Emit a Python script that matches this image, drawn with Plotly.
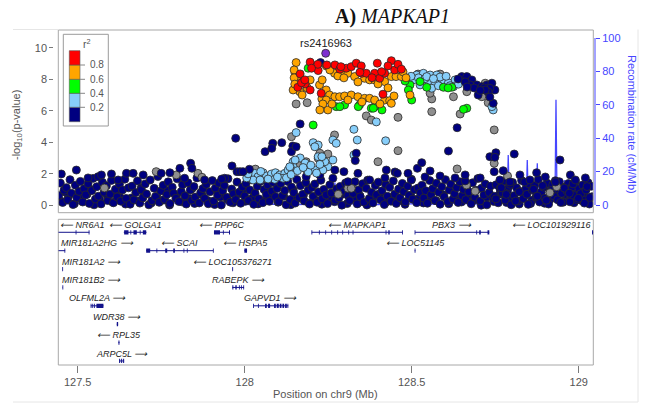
import plotly.graph_objects as go

W, H = 648, 403

# ---------------------------------------------------------------- data
lead_pos = [128.2425]
lead_logp = [9.66]
lead_name = "rs2416963"

red_pos = [128.196, 128.215, 128.220, 128.166, 128.176, 128.181, 128.159, 128.196, 128.229,
           128.219, 128.200, 128.170, 128.180, 128.270, 128.285, 128.304, 128.319, 128.334,
           128.349, 128.351, 128.364, 128.389, 128.397, 128.404, 128.419, 128.439, 128.449,
           128.459, 128.469, 128.414, 128.288, 128.345, 128.381, 128.410, 128.429, 128.246]
red_logp = [9.10, 8.81, 8.56, 8.35, 7.86, 7.71, 7.50, 7.33, 7.12,
            8.96, 8.71, 7.79, 7.97, 8.92, 8.65, 8.71, 8.81, 9.03,
            8.86, 8.39, 8.39, 8.39, 9.03, 8.07, 8.39, 9.19, 8.60,
            8.96, 8.65, 7.06, 8.81, 8.45, 8.11, 8.49, 8.86, 8.92]

orange_pos = [128.154, 128.156, 128.160, 128.196, 128.156, 128.231, 128.151, 128.165, 128.148,
              128.148, 128.145, 128.172, 128.187, 128.224, 128.244, 128.244, 128.232, 128.269,
              128.288, 128.309, 128.329, 128.359, 128.374, 128.389, 128.419, 128.439, 128.453,
              128.469, 128.255, 128.279, 128.297, 128.339, 128.399, 128.474, 128.483, 128.429,
              128.254, 128.270, 128.284, 128.299, 128.319, 128.339, 128.359, 128.374, 128.389,
              128.419, 128.434, 128.439, 128.249, 128.244, 128.261, 128.309, 128.351, 128.405,
              128.447, 128.234, 128.225, 128.150, 128.495]
orange_logp = [9.07, 8.28, 7.65, 7.97, 7.97, 6.76, 8.39, 7.22, 8.60,
               8.10, 7.33, 7.01, 7.46, 7.65, 7.33, 8.86, 7.97, 8.39,
               8.39, 8.39, 8.18, 8.07, 7.97, 7.97, 7.86, 8.18, 8.18,
               8.18, 8.60, 8.22, 8.10, 7.84, 7.71, 8.48, 8.10, 7.46,
               7.01, 6.90, 6.90, 6.95, 7.01, 6.90, 6.80, 6.80, 6.69,
               6.69, 6.65, 6.48, 6.06, 6.69, 6.44, 6.69, 6.57, 6.44,
               6.95, 6.44, 6.06, 7.70, 7.01]

green_pos = [128.190, 128.205, 128.274, 128.299, 128.344, 128.379, 128.389, 128.411, 128.285,
             128.340, 128.385, 128.495, 128.525, 128.545, 128.595, 128.620, 128.490, 128.500,
             128.665, 128.655, 128.480, 128.609]
green_logp = [8.71, 5.10, 6.27, 6.38, 6.38, 6.17, 6.27, 6.06, 6.27,
              6.27, 6.17, 7.65, 7.86, 7.50, 7.50, 7.50, 7.33, 6.69,
              6.17, 6.10, 7.90, 7.46]

lblue_pos = [128.505, 128.515, 128.535, 128.555, 128.575, 128.550, 128.570, 128.595, 128.610,
             128.630, 128.625, 128.560, 128.525, 128.660, 128.744, 128.740, 128.520, 128.585,
             128.603, 128.540, 128.498, 128.640, 128.580, 128.615, 128.545, 128.565,
             128.327, 128.394, 128.154, 128.264, 128.274, 128.205, 128.220, 128.210, 128.337,
             128.422, 128.327, 128.220, 128.264, 128.249, 128.234, 128.145, 128.145, 128.211,
             128.166, 128.181, 128.136, 128.190, 128.240, 128.231, 128.151,
             128.015, 128.030, 128.040, 128.055, 128.065, 128.080, 128.092, 128.105, 128.120,
             128.130, 128.115, 128.025, 128.090, 128.135, 128.046, 128.070, 128.006, 128.010,
             128.048, 128.098, 128.125, 128.139, 128.158, 128.175, 128.198, 128.215, 128.225]
lblue_logp = [7.97, 8.28, 8.39, 8.28, 8.28, 7.86, 7.76, 7.97, 7.79,
              7.97, 7.54, 7.44, 7.65, 8.01, 6.06, 6.27, 8.10, 8.15,
              8.20, 8.05, 8.20, 7.70, 7.60, 7.60, 8.18, 8.05,
              4.83, 5.30, 4.62, 4.15, 3.94, 3.98, 3.83, 3.72, 4.15,
              4.10, 3.20, 3.09, 2.88, 2.45, 2.24, 2.77, 2.45, 2.24,
              3.01, 2.69, 2.43, 2.12, 2.77, 3.09, 2.88,
              1.93, 2.03, 1.82, 2.07, 1.86, 1.99, 2.07, 1.93, 2.03,
              2.24, 1.72, 1.61, 1.65, 2.45, 1.61, 1.67, 1.74, 2.00,
              2.15, 1.80, 1.75, 1.95, 2.20, 2.40, 2.55, 2.05, 2.60]

grey_pos = [128.154, 128.187, 128.364, 128.379, 128.459, 128.720, 128.729, 128.560, 128.645,
            128.560, 128.625, 128.665, 128.710, 128.555, 128.519, 128.585, 128.140, 128.269,
            128.459, 128.225, 128.249, 128.184, 128.160, 128.399, 128.747, 128.636, 128.747,
            128.787, 128.664, 128.220, 128.036, 127.735, 127.795, 127.860, 127.872, 128.309,
            128.934, 128.914, 128.032, 128.184, 128.319,
            127.580, 128.280, 128.690]
grey_logp = [6.44, 6.52, 5.68, 5.42, 5.59, 7.76, 6.52, 5.95, 5.80,
             6.76, 6.90, 7.22, 6.90, 7.12, 8.34, 8.34, 4.36, 4.47,
             3.47, 3.31, 3.26, 2.77, 2.56, 2.77, 4.79, 2.31, 2.67,
             1.86, 1.29, 2.99, 2.18, 2.14, 1.93, 2.03, 1.78, 1.08,
             1.18, 0.80, 2.30, 2.29, 1.08,
             1.10, 0.70, 0.90]

navy_top_pos = [128.227, 128.166, 127.973, 128.061, 128.084, 128.111, 128.144, 128.081, 128.140,
                128.154, 128.334, 128.331, 128.270, 128.424, 128.457, 128.489, 128.339, 128.636,
                128.610, 128.517, 128.530, 128.555, 128.734, 128.752, 128.749, 128.747, 128.807,
                128.944, 128.774, 128.874, 128.660,
                128.650, 128.665, 128.680, 128.695, 128.710, 128.725, 128.740, 128.749, 128.699,
                128.734, 128.744, 128.675, 128.687, 128.717, 128.729, 128.660, 128.639, 128.666,
                128.720, 128.734, 128.705,
                127.451, 127.496, 127.838, 127.842, 127.962, 127.977, 127.931, 127.986, 128.014,
                127.995]
navy_top_logp = [9.07, 5.17, 4.26, 3.41, 3.94, 3.98, 3.77, 3.62, 3.41,
                 3.72, 3.31, 2.84, 2.24, 2.24, 2.03, 2.03, 2.03, 4.93,
                 3.45, 2.35, 2.71, 2.18, 3.09, 3.34, 3.05, 2.14, 3.26,
                 2.88, 2.20, 2.07, 1.93,
                 8.18, 8.18, 7.97, 7.65, 7.54, 7.65, 7.76, 7.33, 7.01,
                 7.44, 6.48, 7.65, 7.46, 7.46, 7.20, 7.84, 8.03, 7.52,
                 7.33, 6.88, 7.30,
                 1.99, 2.24, 2.67, 2.35, 2.50, 2.14, 1.67, 2.14, 2.29,
                 2.14]

navy_mid_pos = [127.561, 127.571, 127.601, 127.646, 127.666, 127.696, 127.750, 127.820, 127.806,
                127.880, 127.940, 127.776, 127.531, 127.621, 128.184, 128.297, 128.309, 128.374,
                128.499, 128.540, 128.585, 128.630, 128.705, 128.824, 128.854, 128.900, 128.975,
                129.020, 128.225, 128.420, 128.450, 128.660, 128.764, 128.794, 128.930, 128.990]
navy_mid_logp = [1.82, 1.93, 1.99, 2.03, 2.03, 1.93, 2.03, 1.72, 2.35,
                 1.61, 1.72, 2.07, 1.74, 1.61, 1.82, 2.14, 1.50, 1.61,
                 1.61, 1.80, 1.86, 1.74, 1.74, 1.93, 1.61, 1.80, 1.93,
                 1.74, 1.93, 1.74, 2.12, 1.55, 1.61, 1.48, 1.48, 1.61]

bg1_pos = [127.443, 127.448, 127.455, 127.459, 127.466, 127.470, 127.477, 127.481, 127.486, 127.493,
           127.497, 127.504, 127.508, 127.515, 127.519, 127.524, 127.531, 127.535, 127.542, 127.546,
           127.553, 127.557, 127.562, 127.570, 127.574, 127.579, 127.586, 127.590, 127.597, 127.601,
           127.607, 127.613, 127.618, 127.625, 127.629, 127.634, 127.641, 127.645, 127.652, 127.657]
bg1_logp = [0.62, 1.41, 0.18, 0.95, 1.12, 0.34, 1.63, 0.77, 0.05, 1.28,
            0.49, 0.88, 1.52, 0.21, 1.05, 0.66, 1.37, 0.12, 0.93, 1.71,
            0.40, 1.18, 0.58, 0.09, 1.46, 0.83, 1.24, 0.30, 0.71, 1.58,
            0.16, 1.02, 0.53, 1.34, 0.26, 0.97, 1.66, 0.44, 1.11, 0.07]

bg2_pos = [127.663, 127.668, 127.674, 127.679, 127.686, 127.690, 127.695, 127.702, 127.706, 127.713,
           127.717, 127.722, 127.729, 127.733, 127.740, 127.744, 127.749, 127.756, 127.760, 127.767,
           127.771, 127.776, 127.783, 127.787, 127.794, 127.798, 127.803, 127.810, 127.814, 127.821,
           127.825, 127.830, 127.837, 127.841, 127.848, 127.852, 127.857, 127.864, 127.868, 127.875]
bg2_logp = [1.22, 0.35, 0.81, 1.55, 0.14, 0.99, 0.47, 1.36, 0.72, 0.03,
            1.61, 0.29, 1.08, 0.56, 1.83, 0.19, 0.91, 1.27, 0.38, 0.68,
            1.49, 0.11, 1.15, 0.76, 0.45, 1.68, 0.24, 0.87, 1.31, 0.60,
            0.08, 1.43, 0.97, 0.33, 1.19, 0.52, 1.74, 0.15, 0.79, 1.06]

bg3_pos = [127.880, 127.885, 127.891, 127.896, 127.903, 127.907, 127.912, 127.919, 127.923, 127.930,
           127.934, 127.939, 127.946, 127.950, 127.957, 127.961, 127.966, 127.973, 127.977, 127.984,
           127.988, 127.993, 128.000, 128.004, 128.011, 128.015, 128.020, 128.027, 128.031, 128.038,
           128.042, 128.047, 128.054, 128.058, 128.065, 128.069, 128.074, 128.081, 128.085, 128.092]
bg3_logp = [0.44, 1.33, 0.10, 0.86, 1.57, 0.27, 1.09, 0.64, 1.41, 0.02,
            0.92, 1.26, 0.51, 1.69, 0.20, 1.03, 0.73, 0.36, 1.48, 0.84,
            0.13, 1.17, 0.59, 1.38, 0.31, 0.98, 1.62, 0.06, 0.77, 1.21,
            0.42, 1.53, 0.17, 1.00, 0.69, 1.29, 0.25, 0.90, 1.45, 0.55]

bg4_pos = [128.097, 128.102, 128.108, 128.113, 128.120, 128.124, 128.129, 128.136, 128.140, 128.147,
           128.151, 128.156, 128.163, 128.167, 128.174, 128.178, 128.183, 128.190, 128.194, 128.201,
           128.205, 128.210, 128.217, 128.221, 128.228, 128.232, 128.237, 128.244, 128.248, 128.255,
           128.259, 128.264, 128.271, 128.275, 128.282, 128.286, 128.291, 128.298, 128.302, 128.309]
bg4_logp = [1.07, 0.23, 1.39, 0.61, 0.94, 0.04, 1.51, 0.37, 1.16, 0.80,
            0.14, 1.64, 0.50, 1.25, 0.70, 0.28, 1.44, 0.96, 0.08, 1.13,
            0.57, 1.35, 0.19, 0.85, 1.59, 0.41, 1.01, 0.66, 0.11, 1.30,
            0.78, 1.72, 0.33, 1.04, 0.47, 1.20, 0.01, 0.89, 1.42, 0.63]

bg5_pos = [128.314, 128.319, 128.325, 128.330, 128.337, 128.341, 128.346, 128.353, 128.357, 128.364,
           128.368, 128.373, 128.380, 128.384, 128.391, 128.395, 128.400, 128.407, 128.411, 128.418,
           128.422, 128.427, 128.434, 128.438, 128.445, 128.449, 128.454, 128.461, 128.465, 128.472,
           128.476, 128.481, 128.488, 128.492, 128.499, 128.503, 128.508, 128.515, 128.519, 128.526]
bg5_logp = [0.30, 1.19, 0.75, 1.50, 0.09, 0.98, 0.54, 1.37, 0.20, 1.08,
            1.60, 0.43, 0.82, 0.15, 1.26, 0.67, 1.47, 0.35, 0.92, 0.05,
            1.32, 0.58, 1.14, 0.26, 1.55, 0.71, 0.12, 1.03, 0.48, 1.39,
            0.87, 0.22, 1.21, 0.63, 1.66, 0.39, 0.99, 0.17, 1.10, 0.79]

bg6_pos = [128.531, 128.536, 128.542, 128.547, 128.554, 128.558, 128.563, 128.570, 128.574, 128.581,
           128.585, 128.590, 128.597, 128.601, 128.608, 128.612, 128.617, 128.624, 128.628, 128.635,
           128.639, 128.644, 128.651, 128.655, 128.662, 128.666, 128.671, 128.678, 128.682, 128.689,
           128.693, 128.698, 128.705, 128.709, 128.716, 128.720, 128.725, 128.732, 128.736, 128.743]
bg6_logp = [1.28, 0.46, 0.93, 0.13, 1.57, 0.68, 1.05, 0.31, 1.40, 0.83,
            0.07, 1.18, 0.55, 1.63, 0.24, 0.97, 1.34, 0.40, 0.74, 1.12,
            0.18, 1.49, 0.60, 1.01, 0.36, 1.24, 0.86, 0.10, 1.43, 0.52,
            0.95, 1.70, 0.28, 1.09, 0.65, 1.36, 0.03, 0.81, 1.22, 0.49]

bg7_pos = [128.748, 128.753, 128.759, 128.764, 128.771, 128.775, 128.780, 128.787, 128.791, 128.798,
           128.802, 128.807, 128.814, 128.818, 128.825, 128.829, 128.834, 128.841, 128.845, 128.852,
           128.856, 128.861, 128.868, 128.872, 128.879, 128.883, 128.888, 128.895, 128.899, 128.906,
           128.910, 128.915, 128.922, 128.926, 128.933, 128.937, 128.942, 128.949, 128.953, 128.960]
bg7_logp = [0.57, 1.31, 0.16, 1.06, 0.79, 1.53, 0.33, 0.94, 1.20, 0.04,
            1.45, 0.62, 1.11, 0.27, 0.88, 1.58, 0.42, 1.02, 0.70, 1.35,
            0.12, 0.97, 1.26, 0.53, 1.64, 0.21, 0.84, 1.15, 0.45, 1.40,
            0.08, 0.91, 1.29, 0.60, 1.04, 0.35, 1.50, 0.76, 0.19, 1.17]

bg8_pos = [128.965, 128.969, 128.974, 128.980, 128.985, 128.990, 128.996, 129.001, 129.006, 129.012,
           129.017, 129.022, 129.028, 129.033, 129.038, 128.752, 128.768, 128.783, 128.795, 128.811,
           128.822, 128.838, 128.849, 128.865, 128.876, 128.892, 128.903, 128.919, 128.930, 128.946,
           128.957, 128.972, 128.983, 128.999, 129.025]
bg8_logp = [0.91, 1.38, 0.22, 1.16, 0.63, 1.52, 0.35, 1.07, 0.74, 1.29,
            0.14, 0.98, 1.44, 0.50, 1.21, 0.41, 1.12, 0.69, 1.33, 0.27,
            0.86, 1.48, 0.06, 1.02, 0.58, 1.25, 0.32, 0.95, 1.56, 0.18,
            1.09, 0.77, 1.36, 0.45, 1.19]

bg9_pos = [127.451, 127.472, 127.490, 127.511, 127.528, 127.549, 127.566, 127.588, 127.605, 127.627,
           127.643, 127.661, 127.682, 127.699, 127.720, 127.737, 127.758, 127.775, 127.796, 127.812,
           127.834, 127.850, 127.872, 127.889, 127.910, 127.927, 127.948, 127.965, 127.986, 128.002,
           128.024, 128.040, 128.062, 128.079, 128.100, 128.117, 128.138, 128.155, 128.176, 128.193]
bg9_logp = [0.25, 0.58, 0.10, 0.42, 0.71, 0.03, 0.36, 0.64, 0.19, 0.50,
            0.08, 0.47, 0.28, 0.75, 0.14, 0.55, 0.33, 0.02, 0.61, 0.22,
            0.44, 0.12, 0.68, 0.30, 0.05, 0.52, 0.38, 0.16, 0.73, 0.26,
            0.48, 0.09, 0.35, 0.62, 0.20, 0.57, 0.04, 0.40, 0.66, 0.13]

bg10_pos = [128.214, 128.231, 128.252, 128.269, 128.290, 128.307, 128.328, 128.345, 128.366, 128.383,
            128.404, 128.421, 128.442, 128.459, 128.480, 128.497, 128.518, 128.535, 128.556, 128.573,
            128.594, 128.611, 128.632, 128.649, 128.670, 128.687, 128.708, 128.725, 128.746, 128.763,
            128.784, 128.801, 128.822, 128.839, 128.860, 128.877, 128.898, 128.915, 128.936, 128.953]
bg10_logp = [0.31, 0.07, 0.54, 0.23, 0.69, 0.11, 0.45, 0.60, 0.02, 0.37,
             0.72, 0.17, 0.49, 0.27, 0.06, 0.63, 0.40, 0.15, 0.56, 0.29,
             0.67, 0.10, 0.43, 0.21, 0.59, 0.34, 0.01, 0.51, 0.24, 0.70,
             0.18, 0.46, 0.08, 0.65, 0.32, 0.53, 0.13, 0.39, 0.74, 0.26]

bg11_pos = [128.974, 128.986, 128.998, 129.010, 129.021, 129.032, 127.462, 127.540, 127.615, 127.690,
            127.765, 127.842, 127.918, 127.995, 128.070, 128.145, 128.960, 128.992, 129.015, 129.040]
bg11_logp = [0.44, 0.16, 0.62, 0.29, 0.51, 0.08, 0.85, 1.00, 0.90, 1.10,
             0.95, 1.05, 0.88, 1.02, 0.93, 0.98, 0.70, 0.92, 0.81, 0.55]

# recombination rate (cM/Mb)
rec_pos = [127.442, 127.500, 127.560, 127.620, 127.700, 127.780, 127.860, 127.930, 128.000,
           128.080, 128.160, 128.220, 128.266, 128.270, 128.274, 128.330, 128.400, 128.480,
           128.550, 128.620, 128.700, 128.760, 128.786, 128.789, 128.792, 128.820, 128.843,
           128.846, 128.849, 128.873, 128.876, 128.879, 128.893, 128.896, 128.899, 128.929,
           128.932, 128.935, 128.954, 128.957, 128.960, 128.991, 128.994, 128.997, 129.044]
rec_rate = [0.6, 1.2, 0.4, 2.0, 0.8, 1.5, 0.5, 1.0, 0.3,
            0.6, 0.2, 0.5, 1.0, 13.5, 1.2, 0.6, 0.3, 0.8,
            0.4, 1.1, 0.6, 2.0, 3.0, 30.0, 4.0, 3.0, 2.5,
            27.0, 3.0, 2.0, 25.0, 3.5, 2.0, 14.5, 2.5, 3.0,
            63.0, 4.0, 2.0, 15.0, 3.0, 2.5, 15.5, 2.0, 1.0]

# genes in the window
gene_name = ["NR6A1", "GOLGA1", "PPP6C", "MAPKAP1", "PBX3", "LOC101929116",
             "MIR181A2HG", "SCAI", "HSPA5", "LOC51145",
             "MIR181A2", "LOC105376271", "MIR181B2", "RABEPK",
             "OLFML2A", "GAPVD1", "WDR38", "RPL35", "ARPC5L"]
gene_start = [127.280, 127.638, 127.908, 128.2006, 128.510, 129.040,
              127.400, 127.705, 127.999, 128.509,
              127.4545, 127.963, 127.4550, 127.963,
              127.539, 128.0258, 127.617, 127.622, 127.624]
gene_end = [127.535, 127.706, 127.956, 128.4731, 128.7323, 129.090,
            127.4625, 127.906, 128.007, 128.511,
            127.4555, 127.965, 127.4560, 127.998,
            127.577, 128.1305, 127.621, 127.625, 127.639]
gene_strand = ["-", "-", "-", "-", "+", "-",
               "+", "-", "-", "-",
               "+", "-", "+", "+",
               "+", "+", "+", "-", "+"]
gene_row = [1, 1, 1, 1, 1, 1,
            2, 2, 2, 2,
            3, 3, 4, 4,
            5, 5, 6, 7, 8]
gene_exons = [
    [(127.280, 127.283), (127.494, 127.496), (127.533, 127.535)],
    [(127.639, 127.652), (127.658, 127.660), (127.667, 127.677), (127.686, 127.688), (127.695, 127.705)],
    [(127.908, 127.926), (127.935, 127.937), (127.953, 127.956)],
    [(128.2006, 128.2016), (128.2229, 128.2239), (128.2420, 128.2430), (128.2600, 128.2610),
     (128.2779, 128.2789), (128.2929, 128.2939), (128.3109, 128.3119), (128.3238, 128.3248),
     (128.4226, 128.4236), (128.4300, 128.4340), (128.4721, 128.4731)],
    [(128.5094, 128.5104), (128.6941, 128.6951), (128.7020, 128.7068), (128.7270, 128.7323)],
    [(129.040, 129.043)],
    [(127.4605, 127.4625)],
    [(127.705, 127.717), (127.736, 127.738), (127.762, 127.768), (127.786, 127.791),
     (127.817, 127.819), (127.827, 127.829), (127.905, 127.907)],
    [(127.999, 128.007)],
    [(128.509, 128.511)],
    [(127.4545, 127.4555)],
    [(127.963, 127.965)],
    [(127.4550, 127.4560)],
    [(127.963, 127.966), (127.972, 127.976), (127.983, 127.985), (127.989, 127.991), (127.996, 127.998)],
    [(127.539, 127.541), (127.544, 127.546), (127.549, 127.551), (127.556, 127.577)],
    [(128.0258, 128.0266), (128.0405, 128.0413), (128.061, 128.066), (128.070, 128.076),
     (128.088, 128.093), (128.096, 128.102), (128.105, 128.110), (128.113, 128.118),
     (128.121, 128.126), (128.128, 128.1305)],
    [(127.617, 127.621)],
    [(127.622, 127.625)],
    [(127.624, 127.627), (127.630, 127.633), (127.636, 127.639)],
]

r2_labels = ["0.2", "0.4", "0.6", "0.8"]
r2_colors = ["#000080", "#87CEFA", "#00FF00", "#FFA500", "#FF0000"]  # low -> high
grey_color = "#8f8f8f"
lead_color = "#7E2FD0"

x_ticks = [127.5, 128.0, 128.5, 129.0]
x_ticktext = ["127.5", "128", "128.5", "129"]
logp_ticks = [0, 2, 4, 6, 8, 10]
rec_ticks = [0, 20, 40, 60, 80, 100]

# ---------------------------------------------------------------- layout helpers
X_RANGE = [127.4419, 129.0437]
FONT = "Liberation Sans, Arial, Helvetica, sans-serif"
GENE_COL = "#12128c"
REC_COL = "#4646ff"
TICK_COL = "#7a7a7a"
TEXT_COL = "#555555"


def fx(p):
    return p / W


def fy(p):
    return 1 - p / H


fig = go.Figure()

# recombination rate (drawn underneath the points)
fig.add_trace(go.Scatter(x=rec_pos, y=rec_rate, mode="lines", xaxis="x", yaxis="y",
                         line=dict(color=REC_COL, width=1.3), hoverinfo="skip"))


def add_points(pos, logp, color, size=8):
    fig.add_trace(go.Scatter(
        x=pos, y=logp, mode="markers", xaxis="x", yaxis="y2", hoverinfo="skip",
        marker=dict(size=size, color=color, line=dict(color="#2a2a2a", width=0.8))))


for p, v in [(bg9_pos, bg9_logp), (bg10_pos, bg10_logp), (bg11_pos, bg11_logp),
             (bg1_pos, bg1_logp), (bg2_pos, bg2_logp), (bg3_pos, bg3_logp), (bg4_pos, bg4_logp),
             (bg5_pos, bg5_logp), (bg6_pos, bg6_logp), (bg7_pos, bg7_logp), (bg8_pos, bg8_logp)]:
    add_points(p, v, r2_colors[0])
add_points(grey_pos, grey_logp, grey_color)
add_points(navy_mid_pos, navy_mid_logp, r2_colors[0])
add_points(lblue_pos, lblue_logp, r2_colors[1])
add_points(navy_top_pos, navy_top_logp, r2_colors[0])
add_points(green_pos, green_logp, r2_colors[2])
add_points(orange_pos, orange_logp, r2_colors[3])
add_points(red_pos, red_logp, r2_colors[4])
add_points(lead_pos, lead_logp, lead_color)

shapes = []
annotations = []

# panel frames
for top, bottom in [(30, 212.7), (219.3, 365)]:
    shapes.append(dict(type="rect", xref="paper", yref="paper", x0=fx(58.3), x1=fx(593.3),
                       y0=fy(bottom), y1=fy(top), line=dict(color="#a8a8a8", width=1)))
# faint outer frame
shapes.append(dict(type="line", xref="paper", yref="paper", x0=fx(13), x1=fx(58.3),
                   y0=fy(29.5), y1=fy(29.5), line=dict(color="#e6e6e6", width=1)))
shapes.append(dict(type="line", xref="paper", yref="paper", x0=fx(638), x1=fx(638),
                   y0=fy(402), y1=fy(29.5), line=dict(color="#e6e6e6", width=1)))
shapes.append(dict(type="line", xref="paper", yref="paper", x0=fx(13), x1=fx(638),
                   y0=fy(402), y1=fy(402), line=dict(color="#e6e6e6", width=1)))

# recombination axis line
shapes.append(dict(type="line", xref="paper", yref="y", x0=fx(595), x1=fx(595),
                   y0=rec_ticks[0], y1=rec_ticks[-1], line=dict(color=REC_COL, width=1)))

# genes
xmin, xmax = X_RANGE
mb_per_char = 5.9 / 334.0
for name, s, e, strand, row, exons in zip(gene_name, gene_start, gene_end, gene_strand,
                                          gene_row, gene_exons):
    vs, ve = max(s, xmin), min(e, xmax)
    if ve > vs:
        shapes.append(dict(type="line", xref="x", yref="y3", x0=vs, x1=ve, y0=row, y1=row,
                           line=dict(color=GENE_COL, width=1)))
    for a, b in exons:
        a, b = max(a, xmin), min(b, xmax)
        if b < a:
            continue
        if b - a < 0.0025:
            m = (a + b) / 2
            a, b = m - 0.00125, m + 0.00125
        shapes.append(dict(type="rect", xref="x", yref="y3", x0=a, x1=b,
                           y0=row - 0.115, y1=row + 0.115,
                           fillcolor=GENE_COL, line=dict(width=0)))
    label = ("\u27f5 " + name) if strand == "-" else (name + " \u27f6")
    half = len(label) * mb_per_char / 2
    cx = (max(s, xmin) + min(e, xmax)) / 2
    cx = min(max(cx, xmin + 0.010 + half), xmax - 0.004 - half)
    annotations.append(dict(x=cx, y=row - 0.40, xref="x", yref="y3", showarrow=False,
                            text="<i>" + label + "</i>", xanchor="center", yanchor="middle",
                            font=dict(family=FONT, size=9, color="#1e1e1e")))

# r^2 legend
shapes.append(dict(type="rect", xref="paper", yref="paper", x0=fx(63.3), x1=fx(108.3),
                   y0=fy(126), y1=fy(34.3), line=dict(color="#9a9a9a", width=1),
                   fillcolor="white"))
edges = [121.7, 107.3, 93.3, 79.3, 65.0, 50.7]
for i, col in enumerate(r2_colors):
    shapes.append(dict(type="rect", xref="paper", yref="paper", x0=fx(69.3), x1=fx(80),
                       y0=fy(edges[i]), y1=fy(edges[i + 1]), fillcolor=col,
                       line=dict(color="#555555", width=0.6)))
for i, lab in enumerate(r2_labels):
    yy = edges[i + 1]
    shapes.append(dict(type="line", xref="paper", yref="paper", x0=fx(80), x1=fx(85),
                       y0=fy(yy), y1=fy(yy), line=dict(color="#888888", width=1)))
    annotations.append(dict(x=fx(87.5), y=fy(yy), xref="paper", yref="paper", showarrow=False,
                            text=lab, xanchor="left", yanchor="middle",
                            font=dict(family=FONT, size=10, color=TEXT_COL)))
annotations.append(dict(x=fx(86.5), y=fy(43), xref="paper", yref="paper", showarrow=False,
                        text="r<sup>2</sup>", xanchor="center", yanchor="middle",
                        font=dict(family=FONT, size=10.5, color=TEXT_COL)))

# lead SNP label
annotations.append(dict(x=lead_pos[0], y=lead_logp[0], xref="x", yref="y2", showarrow=False,
                        text=lead_name, yshift=10, xanchor="center", yanchor="middle",
                        font=dict(family=FONT, size=11, color="#222222")))

# titles
annotations.append(dict(x=fx(392), y=fy(17), xref="paper", yref="paper", showarrow=False,
                        text="<b>A)</b> <i>MAPKAP1</i>", xanchor="center", yanchor="middle",
                        font=dict(family="Liberation Serif, Times New Roman, serif", size=20,
                                  color="#111111")))
annotations.append(dict(x=fx(17), y=fy(125), xref="paper", yref="paper", showarrow=False,
                        text="-log<sub>10</sub>(p-value)", textangle=-90,
                        xanchor="center", yanchor="middle",
                        font=dict(family=FONT, size=11, color=TEXT_COL)))
annotations.append(dict(x=fx(632), y=fy(124), xref="paper", yref="paper", showarrow=False,
                        text="Recombination rate (cM/Mb)", textangle=90,
                        xanchor="center", yanchor="middle",
                        font=dict(family=FONT, size=11, color=REC_COL)))
annotations.append(dict(x=fx(325.8), y=fy(402), xref="paper", yref="paper", showarrow=False,
                        text="Position on chr9 (Mb)", xanchor="center", yanchor="bottom",
                        font=dict(family=FONT, size=11, color=TEXT_COL)))

fig.update_layout(
    width=W, height=H, margin=dict(l=0, r=0, t=0, b=0),
    paper_bgcolor="white", plot_bgcolor="rgba(0,0,0,0)", showlegend=False,
    font=dict(family=FONT),
    xaxis=dict(domain=[fx(58.3), fx(593.3)], range=X_RANGE, anchor="y3",
               tickvals=x_ticks, ticktext=x_ticktext, ticks="outside", ticklen=7,
               tickcolor=TICK_COL, tickfont=dict(size=11, color=TEXT_COL, family=FONT),
               showgrid=False, zeroline=False, showline=False),
    yaxis=dict(domain=[fy(212.7), fy(30)], range=[-4.6, 104.8], side="right",
               anchor="free", position=fx(595), tickvals=rec_ticks, ticks="outside",
               ticklen=4, tickcolor=REC_COL, tickfont=dict(size=11, color=REC_COL, family=FONT),
               showgrid=False, zeroline=False, showline=False),
    yaxis2=dict(overlaying="y", range=[-0.47, 11.14], side="left", anchor="free",
                position=fx(53.3), tickvals=logp_ticks, ticks="outside", ticklen=4,
                tickcolor=TICK_COL, tickfont=dict(size=11, color=TEXT_COL, family=FONT),
                showgrid=False, zeroline=False, showline=False),
    yaxis3=dict(domain=[fy(365), fy(219.3)], range=[8.22, 0.293], visible=False, anchor="x"),
    shapes=shapes, annotations=annotations,
)

fig.write_html("out.html")
